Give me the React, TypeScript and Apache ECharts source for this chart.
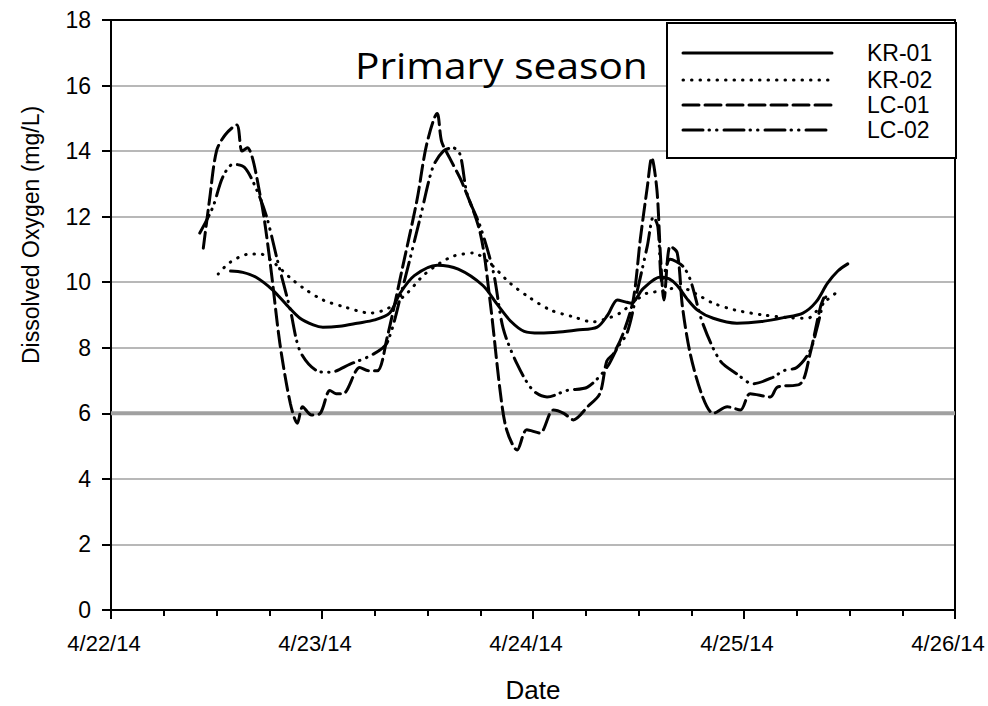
import React, { useEffect, useRef } from "react";
import * as echarts from "echarts";

// hours since 4/22/14 00:00 and dissolved oxygen (mg/L)
const dayLabels = ["4/22/14", "4/23/14", "4/24/14", "4/25/14", "4/26/14"];
const seriesNames = ["KR-01", "KR-02", "LC-01", "LC-02"];
const threshold = 6;

const kr01: number[][] = [
  [13.6, 10.34], [15, 10.3], [16.5, 10.15], [18.4, 9.76], [20, 9.3], [21.5, 8.9], [23, 8.7], [24.1, 8.63],
  [26, 8.66], [28, 8.75], [30, 8.85], [31.7, 9.06], [32.9, 9.67], [34.5, 10.2], [37.1, 10.52], [39.5, 10.4],
  [42.3, 9.9], [44, 9.3], [45.5, 8.8], [47, 8.5], [48.8, 8.45], [51, 8.48], [53, 8.54], [55.3, 8.63],
  [56.5, 9.0], [57.6, 9.46], [58.5, 9.4], [59.2, 9.36], [60.5, 9.8], [62.5, 10.16], [63.5, 10.1], [64.4, 9.9],
  [65.5, 9.5], [66.7, 9.15], [68.5, 8.9], [71.2, 8.75], [74, 8.8], [76.5, 8.92], [78.7, 9.06], [80.2, 9.4],
  [81.5, 9.97], [82.7, 10.35], [83.8, 10.56],
];

const kr02: number[][] = [
  [12.2, 10.25], [13.5, 10.6], [15.8, 10.86], [17, 10.86], [18.5, 10.6], [20.4, 10.13], [22, 9.8], [24.1, 9.46],
  [26.5, 9.25], [29.5, 9.06], [31.5, 9.2], [33.7, 9.67], [35.5, 10.2], [37.4, 10.58], [39, 10.8], [41.2, 10.89],
  [43, 10.6], [45.4, 9.97], [47.5, 9.55], [50, 9.15], [52.5, 8.95], [54.8, 8.79], [56.5, 8.9], [57.9, 9.06],
  [59.5, 9.4], [61, 9.67], [62.5, 9.72], [64.7, 9.85], [66.5, 9.65], [68.5, 9.36], [71, 9.15], [74.2, 9.0],
  [77, 8.92], [79.2, 8.9], [81, 9.36], [82.6, 9.7],
];

const lc01: number[][] = [
  [10.5, 11.04], [11.2, 12.5], [12, 14.0], [13, 14.5], [14.3, 14.8], [14.9, 14.0], [15.5, 14.1], [17, 12.6],
  [18.1, 10.6], [19.2, 8.15], [20.4, 6.3], [21.2, 5.7], [21.8, 6.2], [22.8, 5.95], [23.8, 6.0], [24.9, 6.7],
  [25.6, 6.6], [26.4, 6.6], [28.3, 7.4], [29.3, 7.3], [30.3, 7.3], [31.4, 8.3], [33.2, 10.5], [34.8, 12.5],
  [35.9, 14.2], [37.1, 15.15], [37.6, 14.3], [38.5, 13.8], [40, 13.0], [42, 11.5], [43.1, 9.46], [44.3, 6.6],
  [45, 5.5], [46.2, 4.88], [47.3, 5.5], [48.8, 5.4], [50.3, 6.1], [51.5, 6.0], [52.6, 5.8], [54.2, 6.2],
  [55.6, 6.6], [56.4, 7.6], [57.1, 7.8], [58.2, 8.4], [59.4, 9.46], [60.2, 11.3], [61, 12.9], [61.5, 13.8],
  [62.1, 12.8], [62.5, 10.8], [62.9, 9.46], [63.6, 11.1], [64.4, 10.9], [65, 9.25], [65.9, 7.8], [67.3, 6.5],
  [68.5, 6.0], [70.1, 6.2], [71.6, 6.1], [72.7, 6.6], [75, 6.5], [75.8, 6.8], [78.4, 6.9], [79.5, 7.8],
  [80.7, 9.25], [81.2, 9.6],
];

const lc02: number[][] = [
  [10.1, 11.5], [11.6, 12.3], [12.7, 13.2], [13.9, 13.6], [15.2, 13.5], [16.6, 12.8], [17.7, 12.0], [18.9, 10.7],
  [20.4, 9.15], [21.5, 7.9], [23.4, 7.3], [24.9, 7.25], [27.2, 7.5], [29.8, 7.8], [31.4, 8.15], [33.2, 9.86],
  [35.2, 12.0], [36.6, 13.5], [37.8, 14.0], [38.9, 14.1], [39.7, 13.9], [40.5, 12.7], [42, 11.7], [43.5, 10.3],
  [44.6, 8.6], [46.2, 7.5], [48, 6.7], [49.6, 6.5], [51.9, 6.7], [54.2, 6.8], [56.4, 7.4], [57.6, 8.0],
  [58.7, 8.45], [59.8, 9.67], [61, 11.1], [61.7, 12.0], [62.2, 11.7], [62.7, 10.0], [63.6, 10.7], [65, 10.5],
  [65.9, 10.07], [67.3, 8.75], [69.3, 7.6], [71.2, 7.2], [73, 6.9], [75.3, 7.1], [76.5, 7.3], [78, 7.4],
  [79.5, 7.9], [80.3, 8.6], [81, 9.36], [81.3, 9.55],
];

const FONT = "'Liberation Sans', Arial, sans-serif";
const dashPatterns: number[][] = [[], [0.5, 8], [16, 6], [20, 6, 0.5, 7, 0.5, 7]];
const dataList = [kr01, kr02, lc01, lc02];

export default function App() {
  const ref = useRef<HTMLDivElement>(null);
  useEffect(() => {
    document.body.style.margin = "0";
    document.body.style.overflow = "hidden";
    document.documentElement.style.overflow = "hidden";
    if (!ref.current) return;
    const chart = echarts.init(ref.current, undefined, { renderer: "svg" });

    const lineSeries = dataList.map((d, i) => ({
      name: seriesNames[i],
      type: "line",
      data: d,
      smooth: 0.3,
      showSymbol: false,
      symbol: "none",
      z: 5,
      lineStyle: {
        color: "#000",
        width: 3,
        type: dashPatterns[i].length ? dashPatterns[i] : "solid",
        cap: "round",
      },
    }));

    const graphics: any[] = [
      {
        type: "text",
        x: 355,
        y: 65,
        scaleX: 1.13,
        style: {
          text: "Primary season",
          fill: "#000",
          font: "36px 'Open Sans', sans-serif",
          verticalAlign: "middle",
          align: "left",
        },
        z: 50,
      },
      {
        type: "text",
        x: 31,
        y: 235,
        rotation: Math.PI / 2,
        style: {
          text: "Dissolved Oxygen (mg/L)",
          fill: "#000",
          font: `23px ${FONT}`,
          verticalAlign: "middle",
          align: "center",
        },
        z: 50,
      },
      {
        type: "rect",
        shape: { x: 667, y: 23, width: 289, height: 135 },
        style: { fill: "#fff", stroke: "#000", lineWidth: 2 },
        z: 100,
      },
    ];
    const rowY = [53, 80, 105, 130];
    seriesNames.forEach((n, i) => {
      graphics.push({
        type: "line",
        shape: { x1: 683, y1: rowY[i], x2: 832, y2: rowY[i] },
        style: {
          stroke: "#000",
          lineWidth: 3,
          lineDash: dashPatterns[i].length ? dashPatterns[i] : null,
          lineCap: "round",
        },
        z: 101,
      });
      graphics.push({
        type: "text",
        x: 867,
        y: rowY[i],
        style: {
          text: n,
          fill: "#000",
          font: `23px ${FONT}`,
          verticalAlign: "middle",
          align: "left",
        },
        z: 101,
      });
    });

    chart.setOption({
      animation: false,
      backgroundColor: "#fff",
      grid: { left: 111, right: 33, top: 20, bottom: 96, containLabel: false, outerBoundsMode: "none" },
      xAxis: [
        {
          type: "value",
          min: 0,
          max: 96,
          interval: 24,
          axisLine: { show: true, lineStyle: { color: "#000", width: 2 } },
          axisTick: { show: true, inside: false, length: 9, lineStyle: { color: "#000", width: 2 } },
          minorTick: { show: true, splitNumber: 4, length: 6, lineStyle: { color: "#000", width: 2 } },
          splitLine: { show: false },
          axisLabel: {
            margin: 22,
            fontSize: 22,
            color: "#000",
            fontFamily: FONT,
            padding: [0, 14, 0, 0],
            formatter: (v: number) => dayLabels[Math.round(v / 24)] ?? "",
          },
          name: "Date",
          nameLocation: "middle",
          nameGap: 67,
          nameTextStyle: { fontSize: 26, color: "#000", fontFamily: FONT },
        },
        {
          type: "value",
          position: "top",
          min: 0,
          max: 96,
          axisLine: { show: true, onZero: false, lineStyle: { color: "#000", width: 2 } },
          axisTick: { show: false },
          axisLabel: { show: false },
          splitLine: { show: false },
        },
      ],
      yAxis: [
        {
          type: "value",
          min: 0,
          max: 18,
          interval: 2,
          axisLine: { show: true, lineStyle: { color: "#000", width: 2 } },
          axisTick: { show: true, inside: false, length: 9, lineStyle: { color: "#000", width: 2 } },
          splitLine: { show: true, lineStyle: { color: "#a0a0a0", width: 1.5 } },
          axisLabel: { margin: 20, fontSize: 23, color: "#000", fontFamily: FONT },
        },
        {
          type: "value",
          position: "right",
          min: 0,
          max: 18,
          axisLine: { show: true, onZero: false, lineStyle: { color: "#000", width: 2 } },
          axisTick: { show: false },
          axisLabel: { show: false },
          splitLine: { show: false },
        },
      ],
      series: [
        {
          name: "threshold",
          type: "line",
          data: [[0, threshold], [96, threshold]],
          showSymbol: false,
          symbol: "none",
          z: 2,
          lineStyle: { color: "#a0a0a0", width: 4 },
        },
        ...lineSeries,
      ],
      graphic: graphics,
    });
    return () => chart.dispose();
  }, []);
  return <div ref={ref} style={{ width: 988, height: 706 }} />;
}
